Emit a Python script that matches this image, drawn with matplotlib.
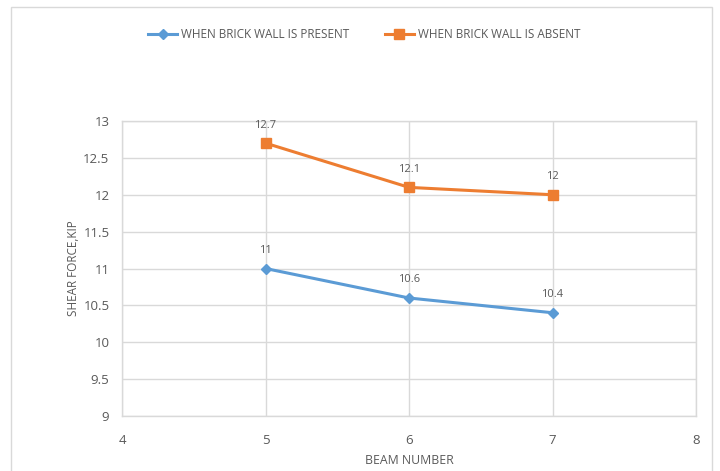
import matplotlib
matplotlib.use("Agg")
import matplotlib.pyplot as plt
from matplotlib.patches import Rectangle

# ============================================================
# DATA
# ============================================================

beams = [5, 6, 7]
with_wall = [11, 10.6, 10.4]
without_wall = [12.7, 12.1, 12]

label_with = "WHEN BRICK WALL IS PRESENT"
label_without = "WHEN BRICK WALL IS ABSENT"

x_ticks = [4, 5, 6, 7, 8]
y_ticks = [9, 9.5, 10, 10.5, 11, 11.5, 12, 12.5, 13]

BLUE = "#5B9BD5"
ORANGE = "#ED7D31"
TEXT = "#595959"
GRID = "#D9D9D9"

plt.rcParams["font.family"] = ["Open Sans", "DejaVu Sans"]

# ============================================================
# FIGURE
# ============================================================

W, H = 720, 471
fig = plt.figure(figsize=(7.2, 4.71), dpi=100)

# chart border (Excel style frame)
fig.patches.append(
    Rectangle((11 / W, -0.05), (712 - 11) / W, 1.05 - 7 / H,
              transform=fig.transFigure, fill=False,
              edgecolor="#D9D9D9", linewidth=1.0)
)

ax = fig.add_axes([122 / W, 1 - 416 / H, (696 - 122) / W, (416 - 121) / H])

ax.plot(beams, with_wall, color=BLUE, linewidth=2.2, marker="D",
        markersize=5.5, label=label_with)
ax.plot(beams, without_wall, color=ORANGE, linewidth=2.2, marker="s",
        markersize=7.5, label=label_without)

for x, y in zip(beams, with_wall):
    ax.annotate(f"{y:g}", (x, y), xytext=(0, 9), textcoords="offset points",
                ha="center", va="bottom", fontsize=8, color=TEXT)
for x, y in zip(beams, without_wall):
    ax.annotate(f"{y:g}", (x, y), xytext=(0, 9), textcoords="offset points",
                ha="center", va="bottom", fontsize=8, color=TEXT)

ax.set_xlim(4, 8)
ax.set_ylim(9, 13)
ax.set_xticks(x_ticks)
ax.set_yticks(y_ticks)
ax.set_xticklabels([f"{t:g}" for t in x_ticks])
ax.set_yticklabels([f"{t:g}" for t in y_ticks])

ax.grid(True, color=GRID, linewidth=1.0)
ax.set_axisbelow(True)
for side in ax.spines:
    ax.spines[side].set_color(GRID)
    ax.spines[side].set_linewidth(1.0)

ax.tick_params(axis="both", length=0, colors=TEXT, labelsize=9.5)
ax.tick_params(axis="x", pad=13)
ax.tick_params(axis="y", pad=9)

ax.set_xlabel("BEAM NUMBER", fontsize=8.8, color=TEXT, labelpad=5)
ax.set_ylabel("SHEAR FORCE,KIP", fontsize=8.5, color=TEXT, labelpad=2)

fig.legend(loc="center", bbox_to_anchor=(364 / W, 1 - 35 / H), ncol=2,
           frameon=False, fontsize=8.5, labelcolor=TEXT, handlelength=2.5,
           columnspacing=3.0, handletextpad=0.3)

fig.savefig("out.png", dpi=100)
